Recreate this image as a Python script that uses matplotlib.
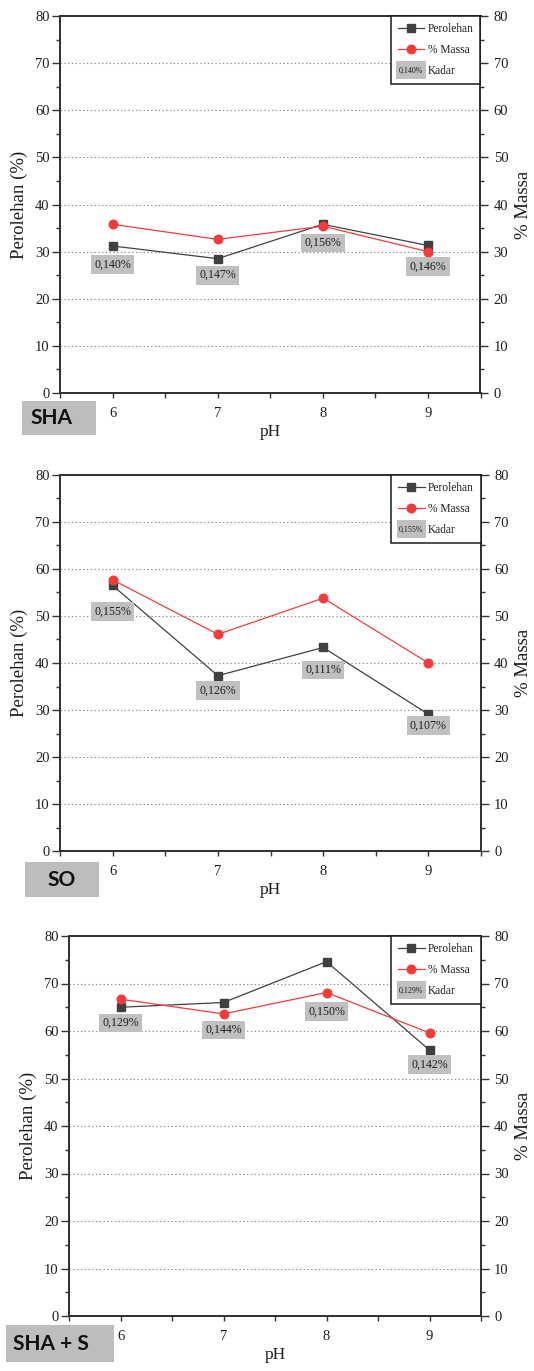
import matplotlib
matplotlib.use("Agg")
import matplotlib.pyplot as plt
import matplotlib.text as mtext
from matplotlib.patches import Rectangle
from matplotlib.legend_handler import HandlerBase
from matplotlib.ticker import MultipleLocator

# ---- data -------------------------------------------------------------
ph = [6, 7, 8, 9]

sha_perolehan = [31.2, 28.5, 35.8, 31.3]
sha_massa = [35.8, 32.6, 35.4, 30.0]
sha_kadar = ["0,140%", "0,147%", "0,156%", "0,146%"]

so_perolehan = [56.5, 37.3, 43.3, 29.1]
so_massa = [57.7, 46.1, 53.8, 40.0]
so_kadar = ["0,155%", "0,126%", "0,111%", "0,107%"]

shas_perolehan = [65.0, 66.0, 74.6, 56.0]
shas_massa = [66.7, 63.6, 68.1, 59.6]
shas_kadar = ["0,129%", "0,144%", "0,150%", "0,142%"]

sample_names = ["SHA", "SO", "SHA + S"]

# where each "Kadar" tag sits (y, in % units)
sha_tag_y = [27.3, 25.0, 31.8, 26.8]
so_tag_y = [50.9, 34.1, 38.5, 26.7]
shas_tag_y = [61.7, 60.2, 64.1, 53.0]

# ---- style ------------------------------------------------------------
W, H = 534, 1371
SERIF = "Liberation Serif"
SPINE = "#333333"
TXT = "#1e1e1e"
GREY_LINE = "#404040"
RED = "#f03c3c"
TAG_BG = "#c0c0c0"

plt.rcParams["font.family"] = [SERIF, "DejaVu Serif"]

fig = plt.figure(figsize=(W / 100, H / 100), dpi=100)


def px_rect(left, top, right, bottom):
    return [left / W, 1 - bottom / H, (right - left) / W, (bottom - top) / H]


class KadarHandle:
    def __init__(self, text):
        self.text = text


class KadarHandler(HandlerBase):
    def legend_artist(self, legend, orig_handle, fontsize, handlebox):
        x0, y0 = handlebox.xdescent, handlebox.ydescent
        w, h = handlebox.width, handlebox.height
        tr = handlebox.get_transform()
        rect = Rectangle((-x0 - 1, -y0 - 3.5), w + 2, h + 7,
                         facecolor=TAG_BG, edgecolor="none", transform=tr)
        txt = mtext.Text(-x0 + w / 2, -y0 + h / 2 - 0.5, orig_handle.text,
                         ha="center", va="center", fontsize=5.8,
                         family=SERIF, color=TXT, transform=tr)
        handlebox.add_artist(rect)
        handlebox.add_artist(txt)
        return rect


def draw_panel(rect_px, perolehan, massa, kadar, tag_y, name, name_box,
               name_x):
    ax = fig.add_axes(px_rect(*rect_px))
    ax2 = ax.twinx()

    for a in (ax, ax2):
        a.set_xlim(5.5, 9.5)
        a.set_ylim(0, 80)
        a.yaxis.set_major_locator(MultipleLocator(10))
        a.yaxis.set_minor_locator(MultipleLocator(5))
        a.xaxis.set_major_locator(MultipleLocator(1))
        a.xaxis.set_minor_locator(MultipleLocator(0.5))
        for s in a.spines.values():
            s.set_color(SPINE)
            s.set_linewidth(1.4)
        a.tick_params(which="both", direction="out", colors=SPINE,
                      labelcolor=TXT, labelsize=10.5, width=1.0)
        a.tick_params(which="major", length=5.5)
        a.tick_params(which="minor", length=3)
        a.tick_params(axis="x", which="both", length=3.5, pad=6.5)
    ax.tick_params(axis="y", pad=2)
    ax2.tick_params(axis="y", pad=4)

    ax.yaxis.grid(True, which="major", linestyle=(0, (1.2, 2.2)),
                  color="#8a8a8a", linewidth=0.8)
    ax.set_axisbelow(True)

    l1, = ax.plot(ph, perolehan, color=GREY_LINE, lw=0.9, marker="s",
                  markersize=5.2, markerfacecolor=GREY_LINE,
                  markeredgecolor=GREY_LINE, label="Perolehan", zorder=3)
    l2, = ax2.plot(ph, massa, color=RED, lw=0.9, marker="o",
                   markersize=6.2, markerfacecolor=RED, markeredgecolor=RED,
                   label="% Massa", zorder=3)

    for x, y, s in zip(ph, tag_y, kadar):
        ax2.text(x, y, s, ha="center", va="center", fontsize=8.6,
                 color=TXT, zorder=6,
                 bbox=dict(boxstyle="square,pad=0.28", fc=TAG_BG, ec="none"))

    ax.set_xticks(ph)
    ax.set_xticklabels([str(v) for v in ph])
    ax.set_xlabel("pH", fontsize=12.5, color=TXT, labelpad=3)
    ax2.tick_params(axis="x", which="both", bottom=False, top=False,
                    labelbottom=False)
    ax.tick_params(axis="x", which="both", top=False)

    left, top, right, bottom = rect_px
    yc = 1 - (top + bottom) / 2 / H
    fig.text((left - 41) / W, yc, "Perolehan (%)", rotation=90,
             ha="center", va="center", fontsize=13.5, color=TXT)
    fig.text(524 / W, yc, "% Massa", rotation=90, ha="center",
             va="center", fontsize=13.5, color=TXT)

    leg = ax2.legend([l1, l2, KadarHandle(kadar[0])],
                     ["Perolehan", "% Massa", "Kadar"],
                     handler_map={KadarHandle: KadarHandler()},
                     loc="upper right", bbox_to_anchor=(1, 1),
                     borderaxespad=0, fontsize=8.3, frameon=True,
                     fancybox=False, framealpha=1, edgecolor="#1a1a1a",
                     handlelength=2.3, handletextpad=0.3,
                     labelspacing=0.78, borderpad=0.6, numpoints=1)
    leg.get_frame().set_linewidth(1.1)
    for t in leg.get_texts():
        t.set_color(TXT)

    bx0, by0, bx1, by1 = name_box
    fig.add_artist(Rectangle((bx0 / W, 1 - by1 / H), (bx1 - bx0) / W,
                             (by1 - by0) / H, transform=fig.transFigure,
                             facecolor="#bdbdbd", edgecolor="none"))
    fig.text(name_x / W, 1 - (by0 + by1) / 2 / H, name,
             ha="center", va="center", fontsize=15, fontweight="bold",
             family=["Lato", "DejaVu Sans"], color="#111111")
    return ax, ax2


draw_panel((60, 16, 480.5, 393), sha_perolehan, sha_massa, sha_kadar,
           sha_tag_y, sample_names[0], (22, 401, 96, 435), 51)
draw_panel((60, 475, 481, 851), so_perolehan, so_massa, so_kadar,
           so_tag_y, sample_names[1], (25, 862, 99, 897), 62)
draw_panel((69, 936, 481, 1316), shas_perolehan, shas_massa, shas_kadar,
           shas_tag_y, sample_names[2], (6, 1325, 114, 1362), 51)

fig.savefig("out.png", dpi=100)
